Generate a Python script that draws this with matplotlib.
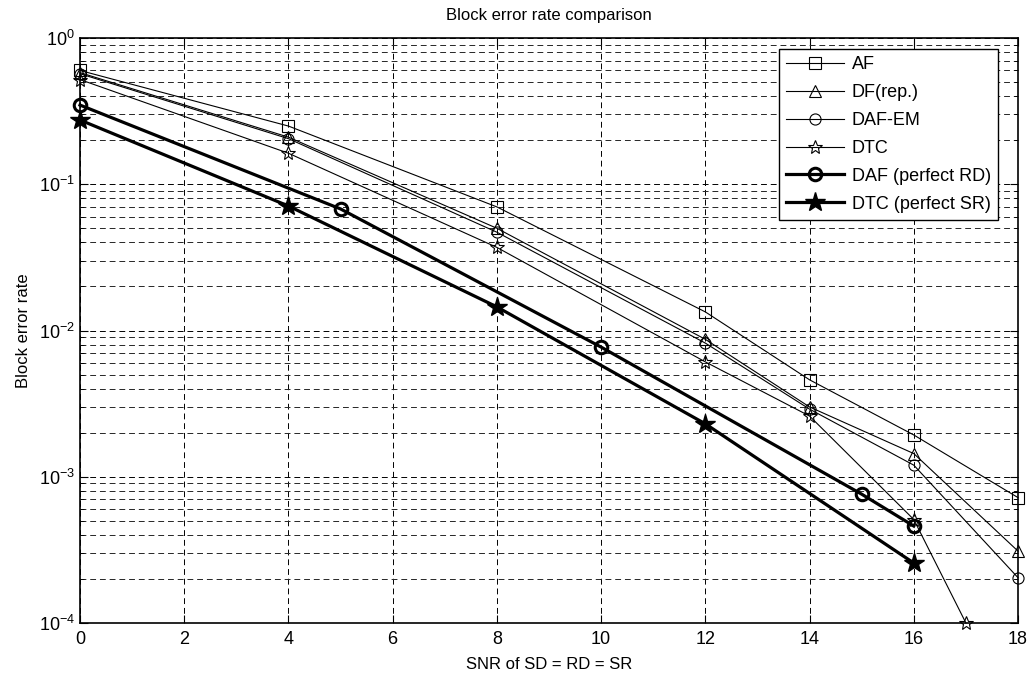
import numpy as np
import matplotlib
matplotlib.use("Agg")
import matplotlib.pyplot as plt
from matplotlib.ticker import LogLocator, NullFormatter

plt.rcParams['font.family'] = ['Liberation Sans', 'DejaVu Sans']
plt.rcParams['mathtext.fontset'] = 'custom'
plt.rcParams['mathtext.rm'] = 'Liberation Sans'
plt.rcParams['mathtext.it'] = 'Liberation Sans'
plt.rcParams['axes.unicode_minus'] = False

# BLER values
snr_a = [0, 4, 8, 12, 14, 16, 18]
af = [0.60, 0.25, 0.070, 0.0134, 0.0046, 0.00193, 0.00072]
df_rep = [0.58, 0.21, 0.050, 0.0087, 0.0030, 0.00144, 0.00031]
daf_em = [0.57, 0.205, 0.047, 0.0082, 0.0029, 0.00120, 0.000204]

snr_dtc = [0, 4, 8, 12, 14, 16, 17]
dtc = [0.52, 0.163, 0.037, 0.0061, 0.0026, 0.00051, 0.0001]

snr_daf_p = [0, 5, 10, 15, 16]
daf_p = [0.348, 0.0678, 0.0077, 0.00076, 0.00046]

snr_dtc_p = [0, 4, 8, 12, 16]
dtc_p = [0.275, 0.071, 0.0145, 0.0023, 0.000257]

fig = plt.figure(figsize=(10.35, 6.79), dpi=100)
ax = fig.add_axes([0.0773, 0.0825, 0.9063, 0.8615])

thin = dict(color='k', lw=0.8, mfc='none', mec='k', mew=0.8, clip_on=False)
ax.semilogy(snr_a, af, marker='s', ms=8, label='AF', **thin)
ax.semilogy(snr_a, df_rep, marker='^', ms=9, label='DF(rep.)', **thin)
ax.semilogy(snr_a, daf_em, marker='o', ms=8, label='DAF-EM', **thin)
ax.semilogy(snr_dtc, dtc, marker='*', ms=10, label='DTC', **thin)
ax.semilogy(snr_daf_p, daf_p, color='k', lw=2.3, marker='o', ms=9, mfc='none',
            mec='k', mew=2.2, label='DAF (perfect RD)', clip_on=False)
ax.semilogy(snr_dtc_p, dtc_p, color='k', lw=2.3, marker='*', ms=15, mfc='k',
            mec='k', label='DTC (perfect SR)', clip_on=False)

ax.set_xlim(0, 18)
ax.set_ylim(1e-4, 1)
ax.set_xticks(np.arange(0, 19, 2))
ax.yaxis.set_minor_locator(LogLocator(base=10, subs=np.arange(2, 10)))
ax.yaxis.set_minor_formatter(NullFormatter())

ax.grid(True, which='major', axis='both', color='k', ls=(0, (6, 4)), lw=0.7)
ax.grid(True, which='minor', axis='y', color='0.15', ls=(0, (6, 4)), lw=0.7)

ax.tick_params(which='both', direction='in', top=True, right=True, labelsize=13)
ax.tick_params(which='major', length=6)
ax.tick_params(which='minor', length=3)
ax.tick_params(axis='x', pad=6)
for s in ax.spines.values():
    s.set_linewidth(1.2)

ax.set_title('Block error rate comparison', fontsize=12, pad=13)
ax.set_xlabel('SNR of SD = RD = SR', fontsize=12, labelpad=6)
ax.set_ylabel('Block error rate', fontsize=12, labelpad=6)

leg = ax.legend(loc='upper right', bbox_to_anchor=(0.9787, 0.981), borderaxespad=0,
                fontsize=13, handlelength=3.2, handletextpad=0.45, fancybox=False,
                edgecolor='k', framealpha=1, labelspacing=0.6)
leg.get_frame().set_linewidth(1.0)

fig.savefig('out.png', dpi=100)
